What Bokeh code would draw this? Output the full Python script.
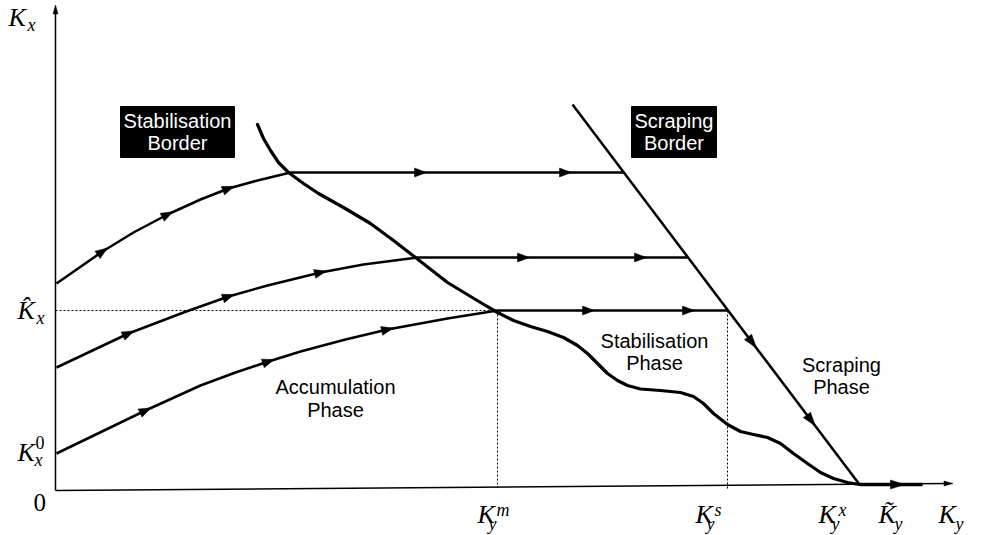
import numpy as np
from bokeh.plotting import figure
from bokeh.models import Range1d
from bokeh.embed import file_html
from bokeh.resources import INLINE
from bokeh.core.properties import value

# ---- data (drawing units; origin = axes origin) ----
traj_top_x = [1, 47, 78, 112, 145, 173, 202, 235, 568]
traj_top_y = [207, 239, 258, 276, 291, 302, 310, 318, 318]
traj_mid_x = [1, 73, 128, 173, 212, 265, 308, 362, 632]
traj_mid_y = [123, 157, 178, 194, 205, 218, 226, 233, 233]
traj_bot_x = [1, 90, 145, 180, 213, 245, 290, 332, 392, 442, 672]
traj_bot_y = [37, 80, 105, 118, 129, 139, 151, 161, 172, 180, 180]

arr_top_x = [47, 112, 173, 365, 510]
arr_mid_x = [73, 173, 265, 468, 585]
arr_bot_x = [90, 213, 332, 533, 633]

stab_x = [202, 208, 215, 223, 233, 248, 263, 288, 315, 338, 360, 392, 425, 442, 458,
          475, 492, 508, 522, 532, 542, 552, 562, 572, 585, 605, 625, 638, 648, 658,
          672, 685, 698, 712, 725, 738, 752, 765, 778, 792, 804]
stab_y = [366, 352, 340, 328, 318, 307, 297, 283, 267, 250, 233, 208, 188, 178, 170,
          164, 159, 153, 145, 137, 127, 117, 110, 105, 101.5, 100, 98, 94, 87, 77,
          66, 59, 56, 53, 47, 37, 27, 18, 12, 8, 6]

scrape_x = [517, 804]
scrape_y = [386, 6]
arr_scrape_y = [148, 70]

Kx_hat = 180      # \hat K_x level
Ky_m = 442
Ky_s = 672
Ky_x = 804
Ky_tilde = 867
x_axis_end = (897, 7)
y_axis_end = 485

W, H = 1001, 535
p = figure(width=W, height=H, output_backend="svg", toolbar_location=None,
           x_range=Range1d(-55, -55 + W), y_range=Range1d(490 - H, 490),
           x_axis_type=None, y_axis_type=None,
           min_border=0, outline_line_color=None)
p.grid.visible = False
p.background_fill_color = "white"
p.border_fill_color = "white"

TDY = 8  # text baseline correction


def heads(xs, ys, dx, dy, L=12.0, Wd=9.0):
    px, py = [], []
    for x, y, ux, uy in zip(xs, ys, dx, dy):
        n = np.hypot(ux, uy)
        ux, uy = ux / n, uy / n
        nx, ny = -uy, ux
        tip = (x + ux * L / 2, y + uy * L / 2)
        bx, by = x - ux * L / 2, y - uy * L / 2
        px.append([tip[0], bx + nx * Wd / 2, bx - nx * Wd / 2])
        py.append([tip[1], by + ny * Wd / 2, by - ny * Wd / 2])
    return px, py


def curve_heads(cx, cy, ax):
    cx = np.asarray(cx, float); cy = np.asarray(cy, float)
    ay = np.interp(ax, cx, cy)
    slopes = np.diff(cy) / np.diff(cx)
    idx = np.clip(np.searchsorted(cx, ax) - 1, 0, len(slopes) - 1)
    return heads(ax, ay, np.ones(len(ax)), slopes[idx])


def T(ys):
    return [y + TDY for y in ys]

# axes
p.line([0, 0], [0, y_axis_end - 4], line_color="black", line_width=1.5)
p.line([0, x_axis_end[0] - 4], [0, x_axis_end[1]], line_color="black", line_width=1.5)
hx, hy = heads([0, x_axis_end[0] - 4], [y_axis_end - 4, x_axis_end[1]],
               [0, x_axis_end[0]], [1, x_axis_end[1]], L=9, Wd=5)
p.patches(hx, hy, fill_color="black", line_color="black", line_width=0.5)

# dotted guides
p.line([0, Ky_s], [Kx_hat, Kx_hat], line_color="black", line_width=1, line_dash="2 2")
p.line([Ky_m, Ky_m], [Kx_hat, 3], line_color="black", line_width=1, line_dash="2 2")
p.line([Ky_s, Ky_s], [Kx_hat, 0], line_color="black", line_width=1, line_dash="2 2")

# trajectories
for tx, ty, ax in [(traj_top_x, traj_top_y, arr_top_x),
                   (traj_mid_x, traj_mid_y, arr_mid_x),
                   (traj_bot_x, traj_bot_y, arr_bot_x)]:
    p.line(tx, ty, line_color="black", line_width=2.5, line_join="round")
    hx, hy = curve_heads(tx, ty, ax)
    p.patches(hx, hy, fill_color="black", line_color="black", line_width=0.5)

# stabilisation border
p.line(stab_x, stab_y, line_color="black", line_width=3.2, line_join="round", line_cap="round")

# scraping border
p.line(scrape_x, scrape_y, line_color="black", line_width=2.5)
sx = np.interp(arr_scrape_y, scrape_y[::-1], scrape_x[::-1])
hx, hy = heads(sx, arr_scrape_y, [scrape_x[1] - scrape_x[0]] * 2,
               [scrape_y[1] - scrape_y[0]] * 2, L=14, Wd=9)
p.patches(hx, hy, fill_color="black", line_color="black", line_width=0.5)

# thick segment on axis
p.line([Ky_x, Ky_tilde], [6, 6], line_color="black", line_width=3.5)
hx, hy = heads([842], [6], [1], [0], L=14, Wd=9)
p.patches(hx, hy, fill_color="black", line_color="black", line_width=0.5)

# black label boxes
p.quad(left=[65, 576], right=[179, 661], bottom=[333, 333], top=[384, 384],
       fill_color="black", line_color="black")

sans = value("Liberation Sans")
p.text(x=[122, 122, 618.5, 618.5], y=T([362, 340, 362, 340]),
       text=["Stabilisation", "Border", "Scraping", "Border"],
       text_font=sans, text_font_size="20px", text_color="white",
       text_align="center", text_baseline="alphabetic")
p.text(x=[280, 280, 599, 599, 786, 786], y=T([96, 73, 142, 120, 118, 96]),
       text=["Accumulation", "Phase", "Stabilisation", "Phase", "Scraping", "Phase"],
       text_font=sans, text_font_size="20px", text_color="black",
       text_align="center", text_baseline="alphabetic")

serif = value("Liberation Serif")
# main K letters
p.text(x=[-47, -38, -38, 422, 640, 763, 823, 883], y=T([465, 172, 30, -32, -32, -32, -32, -32]),
       text=["K", "K\u0302", "K", "K", "K", "K", "K\u0303", "K"],
       text_font=serif, text_font_style="italic", text_font_size="26px",
       text_color="black", text_align="left", text_baseline="alphabetic")
# subscripts
p.text(x=[-28, -19, -21, 433, 651, 776, 839, 900], y=T([458, 165, 23, -41, -41, -41, -41, -41]),
       text=["x", "x", "x", "y", "y", "y", "y", "y"],
       text_font=serif, text_font_style="italic", text_font_size="18px",
       text_color="black", text_align="left", text_baseline="alphabetic")
# superscripts
p.text(x=[441, 659, 783], y=T([-27, -27, -27]),
       text=["m", "s", "x"],
       text_font=serif, text_font_style="italic", text_font_size="18px",
       text_color="black", text_align="left", text_baseline="alphabetic")
p.text(x=[-20], y=T([40]), text=["0"], text_font=serif, text_font_size="18px",
       text_color="black", text_align="left", text_baseline="alphabetic")
p.text(x=[-22], y=T([-20]), text=["0"], text_font=serif, text_font_size="25px",
       text_color="black", text_align="left", text_baseline="alphabetic")

open("out.html", "w").write(file_html(p, INLINE))
